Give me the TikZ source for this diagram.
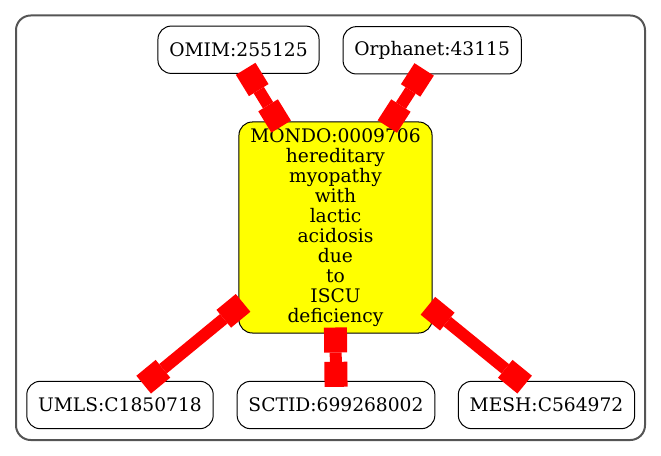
\documentclass[tikz,border=0pt]{standalone}
\usepackage{fontspec}
\setmainfont{DejaVu Serif}
\usepackage{tikz}
\usetikzlibrary{arrows.meta,positioning}
\definecolor{amarelo}{RGB}{255,255,0}
\definecolor{vermelho}{RGB}{255,0,0}
\definecolor{cinzaborda}{RGB}{85,85,85}
\tikzset{
  caixa/.tip={Square[length=18.75pt,width=17.25pt,line width=0pt]},
  termo/.style={rectangle,rounded corners=10pt,draw=black,line width=0.75pt,fill=white,
    minimum height=35.5pt,inner xsep=8.5pt,font=\fontsize{14pt}{15pt}\selectfont},
  termoraiz/.style={termo,fill=amarelo,minimum width=144.75pt,minimum height=158.25pt,
    align=center},
  ligacao/.style={caixa-caixa,line width=9pt,vermelho,shorten <=-4.5pt,shorten >=-4.5pt}
}

\begin{document}
\begin{tikzpicture}[x=0.75pt,y=-0.75pt]
\useasboundingbox (0,0) rectangle (661,456);
\draw[cinzaborda,line width=1.5pt,rounded corners=11pt] (16,15.5) rectangle (645,440);
\node[termoraiz] (mondo) at (335.5,227.5) {MONDO:0009706\\hereditary\\myopathy\\with\\lactic\\acidosis\\due\\to\\ISCU\\deficiency};
\node[termo] (omim) at (238.5,49.75) {OMIM:255125};
\node[termo] (orphanet) at (432.2,50.3) {Orphanet:43115};
\node[termo] (umls) at (120,405) {UMLS:C1850718};
\node[termo] (sctid) at (336,405) {SCTID:699268002};
\node[termo] (mesh) at (546.5,405) {MESH:C564972};
% ligacoes
\draw[ligacao] ([shift={(10.3,0)}]omim.south) -- ([shift={(-57.5,0)}]mondo.north);
\draw[ligacao] ([shift={(-11.3,0)}]orphanet.south) -- ([shift={(55.1,0)}]mondo.north);
\draw[ligacao] ([shift={(0,79.2)}]mondo.west) -- ([shift={(28.3,0)}]umls.north);
\draw[ligacao] (mondo.south) -- (sctid.north);
\draw[ligacao] ([shift={(0,82.1)}]mondo.east) -- ([shift={(-26.5,0)}]mesh.north);
\end{tikzpicture}
\end{document}
